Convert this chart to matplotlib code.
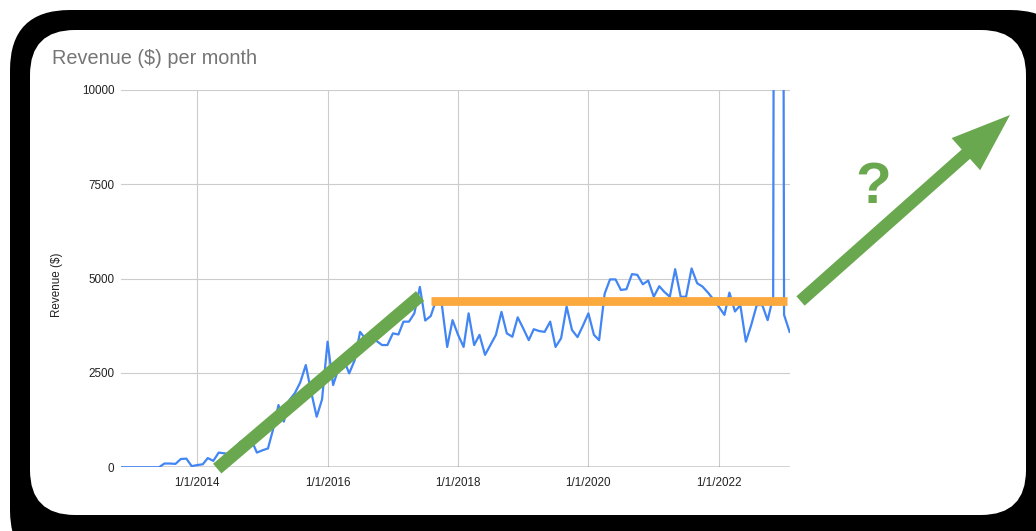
import matplotlib
matplotlib.use("Agg")
import matplotlib.pyplot as plt
import pandas as pd
from matplotlib.patches import FancyBboxPatch, FancyArrow

plt.rcParams['font.family'] = ['Liberation Sans', 'DejaVu Sans']

# monthly revenue, Nov 2012 .. Feb 2023
rev_2012 = [0, 0]
rev_2013 = [0, 0, 0, 0, 0, 0, 100, 100, 90, 220, 230, 30]
rev_2014 = [60, 80, 245, 170, 390, 370, 350, 500, 680, 545, 720, 390]
rev_2015 = [450, 500, 990, 1650, 1210, 1780, 1960, 2250, 2710, 2000, 1340, 1800]
rev_2016 = [3330, 2180, 2600, 2850, 2490, 2840, 3590, 3400, 3500, 3350, 3240, 3240]
rev_2017 = [3550, 3520, 3860, 3860, 4080, 4780, 3890, 4010, 4450, 4350, 3190, 3900]
rev_2018 = [3510, 3190, 4080, 3240, 3510, 2980, 3240, 3510, 4120, 3550, 3460, 3975]
rev_2019 = [3680, 3370, 3660, 3610, 3590, 3860, 3190, 3420, 4260, 3640, 3450, 3750]
rev_2020 = [4080, 3510, 3370, 4600, 4980, 4980, 4700, 4720, 5120, 5100, 4850, 4950]
rev_2021 = [4520, 4800, 4650, 4520, 5250, 4520, 4520, 5270, 4880, 4790, 4630, 4450]
rev_2022 = [4250, 4040, 4630, 4130, 4300, 3330, 3770, 4300, 4300, 3900, 4520, 80000]
rev_2023 = [4040, 3590]

revenue = (rev_2012 + rev_2013 + rev_2014 + rev_2015 + rev_2016 + rev_2017
           + rev_2018 + rev_2019 + rev_2020 + rev_2021 + rev_2022 + rev_2023)
months = pd.date_range('2012-11-01', periods=len(revenue), freq='MS')

tick_dates = pd.to_datetime(['2014-01-01', '2016-01-01', '2018-01-01', '2020-01-01', '2022-01-01'])
tick_labels = ['1/1/2014', '1/1/2016', '1/1/2018', '1/1/2020', '1/1/2022']
y_ticks = [0, 2500, 5000, 7500, 10000]

# hand drawn overlays (date, value)
growth_x = pd.to_datetime(['2014-04-23', '2017-06-02'])
growth_y = [-35, 4540]
plateau_x = pd.to_datetime(['2017-08-03', '2023-01-17'])
plateau_y = [4395, 4395]

GREEN = '#6aa84f'
ORANGE = '#fba83c'
BLUE = '#4285f4'

fig = plt.figure(figsize=(10.36, 5.31), dpi=100)
fig.patch.set_facecolor('white')

# background layer in pixel units
bg = fig.add_axes([0, 0, 1, 1], zorder=0)
bg.set_xlim(0, 1036)
bg.set_ylim(531, 0)
bg.axis('off')
bg.add_patch(FancyBboxPatch((10, 10), 1060, 560, boxstyle='round,pad=0,rounding_size=60',
                            fc='black', ec='none'))
bg.add_patch(FancyBboxPatch((30, 30), 996, 485, boxstyle='round,pad=0,rounding_size=45',
                            fc='white', ec='none'))
bg.text(52, 64, 'Revenue ($) per month', fontsize=14.3, color='#757575', va='baseline')
bg.text(57, 285, 'Revenue ($)', fontsize=8.4, rotation=90, ha='center', va='center', color='#222222')
bg.add_patch(FancyArrow(800.5, 301, 209.5, -186, width=12.5, head_width=43, head_length=59,
                        length_includes_head=True, fc=GREEN, ec='none'))
bg.text(873, 188, '?', fontsize=42, fontweight='bold', color=GREEN, ha='center', va='center')

ax = fig.add_axes([121.2 / 1036, 1 - 467.3 / 531, (789.6 - 121.2) / 1036, (467.3 - 90) / 531], zorder=1)
ax.set_facecolor('none')
ax.plot(months, revenue, color=BLUE, lw=1.6, zorder=3)
ax.set_xlim(months[0], months[-1])
ax.set_ylim(0, 10000)
ax.set_xticks(tick_dates)
ax.set_xticklabels(tick_labels)
ax.set_yticks(y_ticks)
ax.grid(True, color='#cccccc', lw=0.8)
ax.axhline(0, color='#333333', lw=1, zorder=2)
ax.tick_params(length=0, labelsize=8.4, colors='#222222')
ax.tick_params(axis='x', pad=7)
ax.tick_params(axis='y', pad=5)
for s in ax.spines.values():
    s.set_visible(False)

ax.plot(growth_x, growth_y, color=GREEN, lw=9.2, solid_capstyle='butt', clip_on=False, zorder=5)
ax.plot(plateau_x, plateau_y, color=ORANGE, lw=6.3, solid_capstyle='butt', clip_on=False, zorder=4)

fig.savefig('out.png', dpi=100)
